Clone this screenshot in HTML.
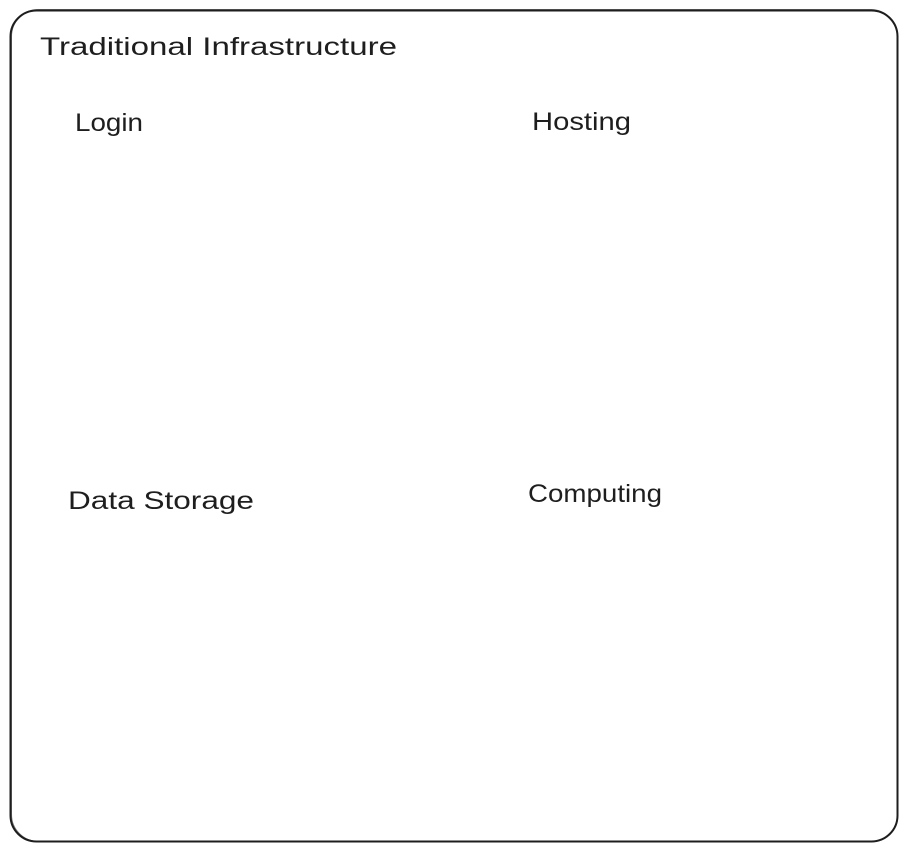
<!DOCTYPE html>
<html><head><meta charset="utf-8"><style>
html,body{margin:0;padding:0;background:#fff;}
svg{display:block;}
text{font-family:"Liberation Sans",sans-serif;fill:#1e1e1e;}
</style></head><body>
<svg width="907" height="851" viewBox="0 0 907 851" xmlns="http://www.w3.org/2000/svg">
<rect x="10.5" y="10.5" width="887" height="831" rx="26" ry="26" fill="none" stroke="#1e1e1e" stroke-width="2"/>
<rect x="11.5" y="9.5" width="886" height="832" rx="27" ry="27" fill="none" stroke="#1e1e1e" stroke-width="1" opacity="0.6"/>
<text x="40" y="55" font-size="25" textLength="357" lengthAdjust="spacingAndGlyphs">Traditional Infrastructure</text>
<text x="75" y="131" font-size="25" textLength="68" lengthAdjust="spacingAndGlyphs">Login</text>
<text x="532" y="130" font-size="25" textLength="99" lengthAdjust="spacingAndGlyphs">Hosting</text>
<text x="68" y="509" font-size="25" textLength="186" lengthAdjust="spacingAndGlyphs">Data Storage</text>
<text x="528" y="502" font-size="25" textLength="134" lengthAdjust="spacingAndGlyphs">Computing</text>
</svg>
</body></html>
